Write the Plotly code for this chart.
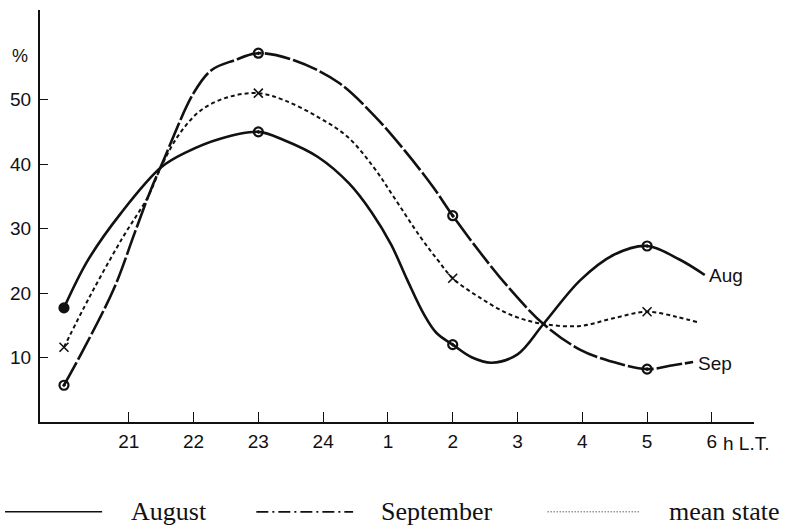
import plotly.graph_objects as go

# Local time on a continuous hour scale (24 -> 24, 1 h -> 25, ... 6 h -> 30)
tick_hours = [21, 22, 23, 24, 25, 26, 27, 28, 29, 30]
tick_labels = ["21", "22", "23", "24", "1", "2", "3", "4", "5", "6"]
y_ticks = [10, 20, 30, 40, 50]

# Observation hours and values (%)
obs_hours = [20, 23, 26, 29]
aug_obs = [17.7, 45.0, 12.0, 27.3]
sep_obs = [5.7, 57.2, 32.0, 8.2]
mean_obs = [11.6, 51.0, 22.3, 17.1]

# Smooth curves through the observations
aug_curve_h = [20, 20.37, 20.88, 21.5, 21.9, 22.4, 23, 23.4, 23.92, 24.4, 24.75,
               25.05, 25.3, 25.55, 25.75, 26, 26.3, 26.6, 27.0, 27.4, 27.97, 28.48,
               29, 29.5, 29.89]
aug_curve_v = [17.7, 25.1, 32.4, 39.5, 41.9, 43.9, 45.0, 43.7, 41.1, 37.0, 32.5,
               27.5, 22.0, 16.8, 13.8, 12.0, 10.0, 9.2, 10.5, 15.2, 22.0, 25.9,
               27.3, 25.2, 22.8]

sep_curve_h = [20, 20.32, 20.78, 21.09, 21.34, 21.52, 22.0, 22.28, 22.63, 23, 23.55,
               24.23, 24.78, 25.25, 25.7, 26, 26.43, 26.85, 27.4, 27.97, 28.48, 29,
               29.4, 29.71]
sep_curve_v = [5.7, 11.6, 20.9, 29.3, 36.0, 40.2, 51.0, 54.6, 56.1, 57.2, 56.1,
               52.7, 47.6, 42.2, 36.4, 32.0, 26.2, 21.0, 15.2, 11.2, 9.3, 8.2,
               8.8, 9.3]

mean_curve_h = [20, 20.4, 20.9, 21.3, 21.5, 21.77, 22.12, 22.54, 23, 23.4, 23.92,
                24.38, 24.78, 25.09, 25.5, 25.77, 26, 26.4, 26.9, 27.4, 27.97,
                28.48, 29, 29.46, 29.77]
mean_curve_v = [11.6, 19.5, 28.5, 35.0, 39.6, 44.5, 48.4, 50.4, 51.0, 49.9, 47.3,
                44.2, 39.5, 34.9, 28.7, 25.1, 22.3, 19.4, 16.6, 15.2, 14.9,
                16.1, 17.1, 16.3, 15.5]

INK = "#111111"
TICK_FONT = "Liberation Sans, Arial, sans-serif"
SERIF = "Liberation Serif, DejaVu Serif, serif"

fig = go.Figure()

fig.add_trace(go.Scatter(x=aug_curve_h, y=aug_curve_v, mode="lines",
                         line=dict(color=INK, width=2.6, shape="spline", smoothing=1.0),
                         hoverinfo="skip"))
fig.add_trace(go.Scatter(x=sep_curve_h, y=sep_curve_v, mode="lines",
                         line=dict(color=INK, width=2.6, shape="spline", smoothing=1.0,
                                   dash="26px,3px"),
                         hoverinfo="skip"))
fig.add_trace(go.Scatter(x=mean_curve_h, y=mean_curve_v, mode="lines",
                         line=dict(color=INK, width=2, shape="spline", smoothing=1.0,
                                   dash="4px,3px"),
                         hoverinfo="skip"))

# Observation markers
fig.add_trace(go.Scatter(x=obs_hours, y=aug_obs, mode="markers",
                         marker=dict(symbol=["circle", "circle-open-dot", "circle-open-dot",
                                             "circle-open-dot"],
                                     size=9, color=INK, line=dict(color=INK, width=2.2))))
fig.add_trace(go.Scatter(x=obs_hours, y=sep_obs, mode="markers",
                         marker=dict(symbol="circle-open-dot", size=9, color=INK,
                                     line=dict(color=INK, width=2.2))))
fig.add_trace(go.Scatter(x=obs_hours, y=mean_obs, mode="markers",
                         marker=dict(symbol="x-thin", size=9, color=INK,
                                     line=dict(color=INK, width=1.6))))

fig.update_layout(
    width=794, height=529,
    margin=dict(l=38, r=40, t=10, b=107),
    paper_bgcolor="white", plot_bgcolor="white",
    showlegend=False,
    xaxis=dict(range=[19.63, 30.65], tickvals=tick_hours, ticktext=tick_labels,
               ticks="inside", ticklen=10, tickwidth=1.2, tickcolor=INK,
               showline=True, linecolor=INK, linewidth=2, showgrid=False,
               zeroline=False, ticklabelstandoff=1,
               tickfont=dict(family=TICK_FONT, size=19, color=INK)),
    yaxis=dict(range=[0, 63.9], tickvals=y_ticks,
               ticks="inside", ticklen=8, tickwidth=1.2, tickcolor=INK,
               showline=True, linecolor=INK, linewidth=2, showgrid=False,
               zeroline=False, ticklabelstandoff=3,
               tickfont=dict(family=TICK_FONT, size=19, color=INK)),
)

# Axis annotations and curve names
fig.add_annotation(x=-0.028, y=0.888, xref="paper", yref="paper", text="%",
                   xanchor="center", yanchor="middle", showarrow=False,
                   font=dict(family=TICK_FONT, size=18, color=INK))
fig.add_annotation(x=30.14, y=-0.022, xref="x", yref="paper", text="h L.T.",
                   xanchor="left", yanchor="top", showarrow=False,
                   font=dict(family=TICK_FONT, size=19, color=INK))
fig.add_annotation(x=29.93, y=22.8, text="Aug", xanchor="left", yanchor="middle",
                   showarrow=False, font=dict(family=TICK_FONT, size=19, color=INK))
fig.add_annotation(x=29.76, y=9.0, text="Sep", xanchor="left", yanchor="middle",
                   showarrow=False, font=dict(family=TICK_FONT, size=19, color=INK))

# Key below the chart
key_y = -0.218
key = [
    ("August", -0.049, 0.087, "solid", 1.6, 0.1243),
    ("September", 0.303, 0.4385, "12px,4px,2px,4px", 1.8, 0.4749),
    ("mean state", 0.711, 0.841, "1px,2px", 1.0, 0.8785),
]
for label, x0, x1, dash, w, tx in key:
    fig.add_shape(type="line", xref="paper", yref="paper", x0=x0, x1=x1,
                  y0=key_y, y1=key_y, line=dict(color=INK, width=w, dash=dash))
    fig.add_annotation(x=tx, y=key_y, xref="paper", yref="paper", text=label,
                       xanchor="left", yanchor="middle", showarrow=False,
                       font=dict(family=SERIF, size=26, color=INK))

fig.write_html("out.html")
